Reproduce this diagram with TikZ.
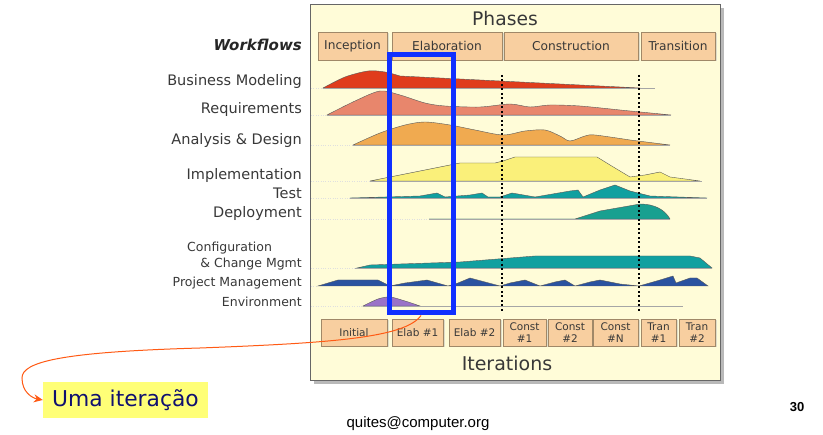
\documentclass[tikz,border=0pt]{standalone}
\usepackage{fontspec}
\setmainfont{DejaVu Sans}
\newfontfamily\arialf{Liberation Sans}
\usetikzlibrary{arrows.meta,shadows}
\definecolor{panelbg}{HTML}{FFFCD8}
\definecolor{boxfill}{HTML}{F8CFA0}
\definecolor{boxline}{HTML}{A08868}
\definecolor{cred}{HTML}{E03C1C}
\definecolor{csalmon}{HTML}{E8866C}
\definecolor{corange}{HTML}{F0AA50}
\definecolor{cyellow}{HTML}{FAF07A}
\definecolor{cteal}{HTML}{10A0A0}
\definecolor{cteal2}{HTML}{18A090}
\definecolor{cblue}{HTML}{2A52A0}
\definecolor{cpurple}{HTML}{9A72C8}
\definecolor{bluebox}{HTML}{1030FF}
\definecolor{carrow}{HTML}{FF5A14}
\definecolor{callfill}{HTML}{FFFF77}
\definecolor{calltext}{HTML}{101070}
\definecolor{labtext}{HTML}{383838}
\tikzset{
  phasebox/.style={draw=boxline, fill=boxfill, line width=0.8pt, inner sep=0pt,
    minimum height=28pt, text=labtext, font=\fontsize{12.2}{14}\selectfont,
    drop shadow={shadow xshift=1.5pt, shadow yshift=-1.5pt, fill=gray!50}},
  iterbox/.style={draw=boxline, fill=boxfill, line width=0.8pt, inner sep=0pt,
    minimum height=27pt, text=labtext, align=center, font=\fontsize{10.5}{11.5}\selectfont,
    drop shadow={shadow xshift=1.5pt, shadow yshift=-1.5pt, fill=gray!50}},
  wflabel/.style={anchor=east, text=labtext, inner sep=0pt, font=\fontsize{14.5}{16}\selectfont},
  wflabelsm/.style={anchor=east, text=labtext, inner sep=0pt, font=\fontsize{12.5}{14}\selectfont},
  hump/.style={draw=gray!70!black, line width=0.4pt},
  baseln/.style={draw=gray!70, line width=0.5pt},
  guideln/.style={draw=gray!25, line width=0.4pt, dotted},
  phaseline/.style={draw=black, line width=1.6pt, dash pattern=on 2pt off 2.5pt},
  callarrow/.style={draw=carrow, line width=1pt, -{Stealth[length=9pt,width=8pt]}},
}
\begin{document}
\begin{tikzpicture}[x=1pt,y=-1pt]
\useasboundingbox (0,0) rectangle (823,435);
% panel with shadow
\fill[gray!55] (314,8) rectangle (724,384);
\node[draw=gray!80!black, fill=panelbg, line width=0.8pt, minimum width=410pt, minimum height=376pt, inner sep=0pt] (panel) at (515,192) {};
% titles
\node[text=labtext, font=\fontsize{18.7}{20}\selectfont] (phases) at (505,19) {Phases};
\node[text=labtext, font=\fontsize{19}{21}\selectfont] (iterations) at (507,363) {Iterations};
% phase boxes
\node[phasebox, minimum width=69pt] (inc) at (352.5,46) {Inception};
\node[phasebox, minimum width=110pt] (ela) at (447,46) {Elaboration};
\node[phasebox, minimum width=134pt] (con) at (571,46) {Construction};
\node[phasebox, minimum width=74pt] (tra) at (678,46) {Transition};
% guide lines
\foreach \yy/\xx in {88/323,115/327,145/353,181/370,198/350,219/429,268/355,286/318,306/363}{
  \draw[guideln] (311,\yy) -- (\xx,\yy);
}
% humps
% Business modeling
\filldraw[hump, fill=cred] plot[smooth, tension=0.5] coordinates {(323,88) (345,77) (368,71) (385,72) (400,76)} -- (500,81) -- (640,88) -- cycle;
\draw[baseln] (323,88) -- (655,88);
% Requirements
\filldraw[hump, fill=csalmon] plot[smooth, tension=0.5] coordinates {(327,115) (355,101) (380,91) (400,95) (425,103) (445,106) (480,107) (510,104) (530,107) (550,105) (580,106) (620,110)} -- (671,115) -- cycle;
\draw[baseln] (327,115) -- (671,115);
% Analysis & Design
\filldraw[hump, fill=corange] plot[smooth, tension=0.5] coordinates {(353,145) (380,133) (405,125) (425,122) (450,125) (475,130) (503,135) (525,131) (545,130) (560,136) (570,141) (585,136) (595,135) (630,140)} -- (670,145) -- cycle;
\draw[baseln] (353,145) -- (670,145);
% Implementation
\filldraw[hump, fill=cyellow] (370,181) -- (445,166) -- (460,163) -- (495,163) -- (503,161) -- (515,157) -- (597,157) -- (610,165) -- (630,177) -- (645,175) -- (660,172) -- (670,177) -- (700,181) -- cycle;
\draw[baseln] (370,181) -- (702,181);
% Test
\filldraw[hump, fill=cteal] (350,198) -- (420,196) -- (437,193) -- (445,197) -- (470,195) -- (482,193) -- (488,197) -- (500,197) -- (512,193) -- (535,197) -- (570,191) -- (578,190) -- (583,197) -- (600,190) -- (615,185) -- (630,191) -- (650,196) -- (707,198) -- cycle;
\draw[baseln] (350,198) -- (707,198);
% Deployment
\filldraw[hump, fill=cteal2] (429,219) -- (575,219) -- (600,211) -- (640,204) .. controls (655,204) and (665,210) .. (670,219) -- cycle;
\draw[baseln] (429,219) -- (670,219);
% Configuration & Change Mgmt
\filldraw[hump, fill=cteal] (357,268) -- (370,265) -- (430,263) -- (460,262) -- (535,256) -- (690,256) -- (700,258) -- (712,268) -- cycle;
\draw[baseln] (355,268) -- (712,268);
% Project Management
\filldraw[hump, fill=cblue] (318,286) -- (338,280) -- (378,280) -- (390,286) -- (405,283) -- (427,280) -- (448,286) -- (458,283) -- (470,278) -- (485,282) -- (500,286) -- (510,283) -- (525,280) -- (540,286) -- (555,282) -- (565,280) -- (575,286) -- (590,282) -- (600,280) -- (620,284) -- (639,286) -- (660,280) -- (673,276) -- (676,283) -- (690,278) -- (697,278) -- (708,286) -- cycle;
% Environment
\filldraw[hump, fill=cpurple] plot[smooth, tension=0.5] coordinates {(363,306) (378,299) (390,297) (405,301) (420,306)} -- cycle;
\draw[baseln] (363,306) -- (683,306);
% phase separators
\draw[phaseline] (502,75) -- (502,312);
\draw[phaseline] (639,75) -- (639,312);
% iteration boxes
\node[iterbox, minimum width=66pt] (it1) at (354,332.5) {Initial};
\node[iterbox, minimum width=51pt] (it2) at (417.5,332.5) {Elab \#1};
\node[iterbox, minimum width=51pt] (it3) at (474.5,332.5) {Elab \#2};
\node[iterbox, minimum width=43pt] (it4) at (524.5,332.5) {Const\\\#1};
\node[iterbox, minimum width=44pt] (it5) at (570,332.5) {Const\\\#2};
\node[iterbox, minimum width=45pt] (it6) at (615.5,332.5) {Const\\\#N};
\node[iterbox, minimum width=35pt] (it7) at (658.5,332.5) {Tran\\\#1};
\node[iterbox, minimum width=36pt] (it8) at (697,332.5) {Tran\\\#2};
% workflow labels
\node[wflabel, font=\fontsize{15}{17}\selectfont\bfseries\itshape, text=black!85] (wf) at (302,45) {Workflows};
\node[wflabel] (bm) at (302,82) {Business Modeling};
\node[wflabel] (rq) at (302,110) {Requirements};
\node[wflabel] (ad) at (302,141) {Analysis \& Design};
\node[wflabel] (im) at (302,176) {Implementation};
\node[wflabel] (ts) at (302,193) {Test};
\node[wflabel] (dp) at (302,214) {Deployment};
\node[wflabelsm, anchor=west] (cf) at (187,248) {Configuration};
\node[wflabelsm] (cc) at (302,264) {\& Change Mgmt};
\node[wflabelsm] (pm) at (302,283) {Project Management};
\node[wflabelsm] (en) at (302,302) {Environment};
% blue iteration box
\node[draw=bluebox, line width=5pt, minimum width=64pt, minimum height=258pt, inner sep=0pt] (blue) at (421,184) {};
% callout
\node[fill=callfill, text=calltext, minimum width=165pt, minimum height=36pt, inner sep=0pt, font=\fontsize{21.8}{24}\selectfont] (call) at (125.5,400) {Uma iteração};
\draw[callarrow] (blue.south) .. controls (405,338) and (330,343) .. (200,348) .. controls (60,352) and (22,362) .. (22,378) .. controls (22,392) and (32,398) .. (call.west);
% footer
\node[font=\arialf\fontsize{15}{17}\selectfont] (mail) at (418,424) {quites@computer.org};
\node[font=\arialf\bfseries\fontsize{13}{15}\selectfont] (page) at (797,407) {30};
\end{tikzpicture}
\end{document}
